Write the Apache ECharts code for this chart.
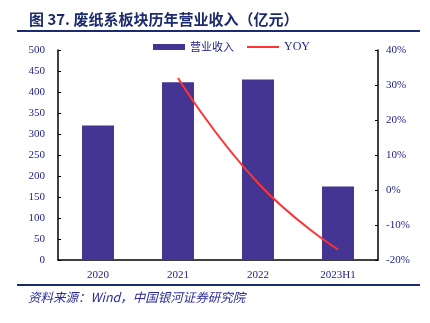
<!DOCTYPE html>
<html>
<head>
<meta charset="utf-8">
<script src="https://cdn.jsdelivr.net/npm/echarts@6/dist/echarts.min.js"></script>
<style>
  html, body { margin: 0; padding: 0; background: #ffffff; }
  #chart { width: 430px; height: 323px; }
</style>
</head>
<body>
<div id="chart"></div>
<script>
// Revenue of the waste-paper board segment (100 million yuan) and YoY growth (%)
const categories = ['2020', '2021', '2022', '2023H1'];
const revenue = [320, 423, 430, 175];
const yoy = [null, 32, 2, -17];

const navy = '#1c2a6e';
const labelColor = '#22228a';
const serif = '"Liberation Serif", "Times New Roman", serif';
const cjk = '"Noto Sans CJK SC", sans-serif';

const chart = echarts.init(document.getElementById('chart'));
chart.setOption({
  backgroundColor: '#ffffff',
  animation: false,
  title: {
    text: '图 37. 废纸系板块历年营业收入（亿元）',
    left: 24,
    top: 7,
    textStyle: { color: navy, fontSize: 15, fontWeight: 'bold', fontFamily: cjk }
  },
  graphic: [
    { type: 'line', shape: { x1: 17, y1: 31, x2: 420, y2: 31 }, style: { stroke: navy, lineWidth: 2 } },
    { type: 'line', shape: { x1: 17, y1: 285, x2: 420, y2: 285 }, style: { stroke: navy, lineWidth: 2 } },
    {
      type: 'text', left: 28, top: 291,
      style: { text: '资料来源：Wind，中国银河证券研究院', fill: '#2a2a9a', font: 'italic 12.5px ' + cjk }
    }
  ],
  legend: {
    left: 148,
    top: 36,
    itemWidth: 32,
    itemHeight: 6,
    itemGap: 13,
    textStyle: { fontSize: 11, color: labelColor, fontFamily: cjk },
    data: [
      { name: '营业收入', icon: 'rect' },
      {
        name: 'YOY',
        icon: 'path://M0,0 L32,0 L32,2 L0,2 Z',
        textStyle: { fontFamily: serif, fontSize: 12 }
      }
    ]
  },
  grid: { left: 58, right: 52, top: 50, bottom: 63 },
  xAxis: {
    type: 'category',
    data: categories,
    axisLine: { lineStyle: { color: '#000', width: 1.5 } },
    axisTick: { inside: true, length: 4, lineStyle: { color: '#000' } },
    axisLabel: { color: labelColor, fontFamily: serif, fontSize: 11, margin: 10 }
  },
  yAxis: [
    {
      type: 'value', min: 0, max: 500, interval: 50,
      axisLine: { show: true, lineStyle: { color: '#000', width: 1.5 } },
      axisTick: { show: true, inside: true, length: 3, lineStyle: { color: '#000' } },
      splitLine: { show: false },
      axisLabel: { color: labelColor, fontFamily: serif, fontSize: 11, margin: 13 }
    },
    {
      type: 'value', min: -20, max: 40, interval: 10,
      axisLine: { show: true, lineStyle: { color: '#000', width: 1.5 } },
      axisTick: { show: true, inside: true, length: 3, lineStyle: { color: '#000' } },
      splitLine: { show: false },
      axisLabel: { color: labelColor, fontFamily: serif, fontSize: 11, margin: 8, formatter: '{value}%' }
    }
  ],
  series: [
    {
      name: '营业收入',
      type: 'bar',
      data: revenue,
      barWidth: '40%',
      itemStyle: { color: '#433591' }
    },
    {
      name: 'YOY',
      type: 'line',
      yAxisIndex: 1,
      data: yoy,
      smooth: true,
      symbol: 'none',
      lineStyle: { color: '#ff3333', width: 2 },
      itemStyle: { color: '#ff3333' }
    }
  ]
});
</script>
</body>
</html>
